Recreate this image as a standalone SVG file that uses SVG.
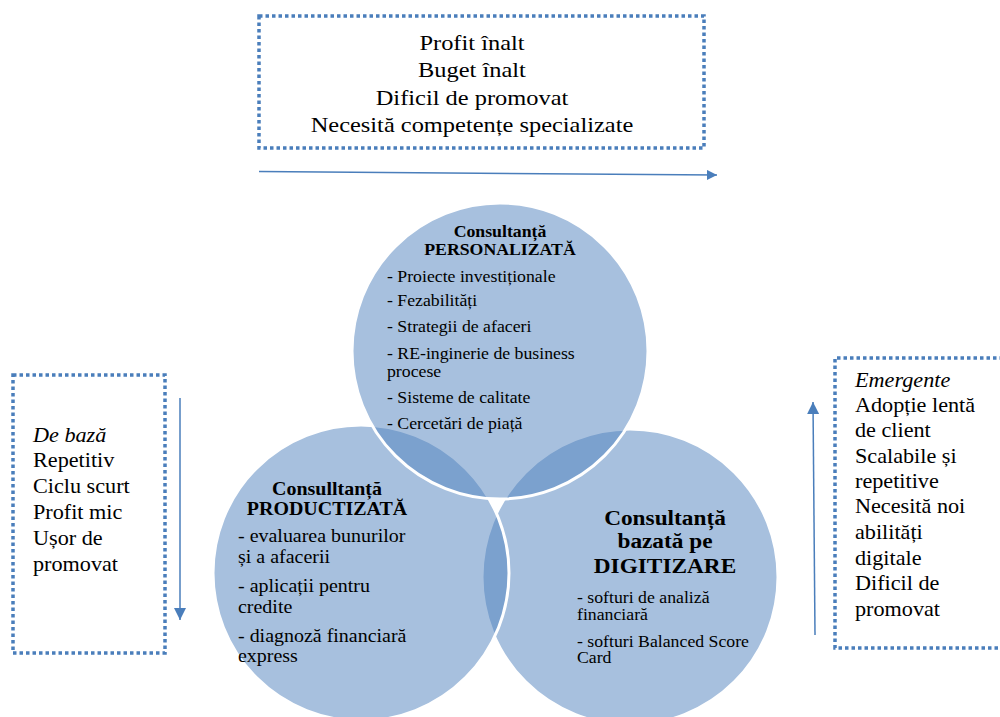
<svg xmlns="http://www.w3.org/2000/svg" width="1000" height="717" viewBox="0 0 1000 717">
<defs>
<style>
.box{fill:none;stroke:#4a7ebb;stroke-width:3.5;stroke-dasharray:3.5 3}
.arr{fill:none;stroke:#4a7ebb;stroke-width:1.5}
.circ{fill:#4f81bd;fill-opacity:0.5;stroke:#fff;stroke-width:3}
.t{font-family:"Liberation Serif","Times New Roman",serif;fill:#000}
.b{font-weight:bold}
.i{font-style:italic}
</style>
<marker id="ah" viewBox="0 0 10 10" refX="10" refY="5" markerWidth="10" markerHeight="10" markerUnits="userSpaceOnUse" orient="auto">
<path d="M0,0 L10,5 L0,10 z" fill="#4a7ebb"/>
</marker>
<marker id="ahv" viewBox="0 0 10 10" refX="10" refY="5" markerWidth="12" markerHeight="12" markerUnits="userSpaceOnUse" orient="auto">
<path d="M0,0 L10,5 L0,10 z" fill="#4a7ebb"/>
</marker>
</defs>
<rect width="1000" height="717" fill="#fff"/>

<g id="venn">
<g id="digitizare"><circle class="circ" cx="630" cy="577" r="148"/></g>
<g id="productizata"><circle class="circ" cx="361" cy="573" r="148"/></g>
<g id="personalizata"><circle class="circ" cx="500" cy="351" r="148"/></g>
</g>

<g id="personalizata-text" class="t">
<g font-size="16" class="b" text-anchor="middle" transform="matrix(1.11,0,0,1,-55,0)">
<text x="500" y="237">Consultanță</text>
<text x="500" y="255">PERSONALIZATĂ</text>
</g>
<g font-size="16" transform="matrix(1.11,0,0,1,-42.57,0)">
<text x="387" y="282">- Proiecte investiționale</text>
<text x="387" y="306">- Fezabilități</text>
<text x="387" y="332">- Strategii de afaceri</text>
<text x="387" y="359">- RE-inginerie de business</text>
<text x="387" y="377">procese</text>
<text x="387" y="403">- Sisteme de calitate</text>
<text x="387" y="429">- Cercetări de piață</text>
</g>
</g>

<g id="productizata-text" class="t">
<g font-size="18" class="b" text-anchor="middle" transform="matrix(1.11,0,0,1,-35.97,0)">
<text x="327" y="495">Consulltanță</text>
<text x="327" y="515">PRODUCTIZATĂ</text>
</g>
<g font-size="18" transform="matrix(1.11,0,0,1,-26.18,0)">
<text x="238" y="542">- evaluarea bunurilor</text>
<text x="238" y="563">și a afacerii</text>
<text x="238" y="592">- aplicații pentru</text>
<text x="238" y="613">credite</text>
<text x="238" y="642">- diagnoză financiară</text>
<text x="238" y="662">express</text>
</g>
</g>

<g id="digitizare-text" class="t">
<g font-size="21" class="b" text-anchor="middle" transform="matrix(1.11,0,0,1,-73.15,0)">
<text x="665" y="525">Consultanță</text>
<text x="665" y="548">bazată pe</text>
<text x="665" y="573">DIGITIZARE</text>
</g>
<g font-size="16" transform="matrix(1.11,0,0,1,-63.47,0)">
<text x="577" y="603">- softuri de analiză</text>
<text x="577" y="620">financiară</text>
<text x="577" y="647">- softuri Balanced Score</text>
<text x="577" y="663">Card</text>
</g>
</g>

<g id="top-box">
<rect class="box" x="259" y="16" width="445" height="132"/>
<g class="t" font-size="22" text-anchor="middle" transform="matrix(1.11,0,0,1,-51.92,0)">
<text x="472" y="50">Profit înalt</text>
<text x="472" y="77">Buget înalt</text>
<text x="472" y="105">Dificil de promovat</text>
<text x="472" y="132">Necesită competențe specializate</text>
</g>
</g>

<g id="left-box">
<rect class="box" x="13" y="375" width="152" height="278"/>
<g class="t" font-size="20" transform="matrix(1.11,0,0,1,-3.63,0)">
<text x="33" y="442" class="i">De bază</text>
<text x="33" y="467">Repetitiv</text>
<text x="33" y="493">Ciclu scurt</text>
<text x="33" y="519">Profit mic</text>
<text x="33" y="545">Ușor de</text>
<text x="33" y="571">promovat</text>
</g>
</g>

<g id="right-box">
<path class="box" d="M1003,358 H835 V648 H1003"/>
<g class="t" font-size="20" transform="matrix(1.11,0,0,1,-94.05,0)">
<text x="855" y="387" class="i">Emergente</text>
<text x="855" y="412">Adopție lentă</text>
<text x="855" y="437">de client</text>
<text x="855" y="463">Scalabile și</text>
<text x="855" y="488">repetitive</text>
<text x="855" y="513">Necesită noi</text>
<text x="855" y="539">abilități</text>
<text x="855" y="565">digitale</text>
<text x="855" y="590">Dificil de</text>
<text x="855" y="616">promovat</text>
</g>
</g>

<g id="connectors">
<line class="arr" x1="259" y1="171.5" x2="717" y2="175" marker-end="url(#ah)"/>
<line class="arr" x1="180" y1="398" x2="180" y2="620" marker-end="url(#ahv)"/>
<line class="arr" x1="815" y1="635" x2="813" y2="402" marker-end="url(#ahv)"/>
</g>
</svg>
